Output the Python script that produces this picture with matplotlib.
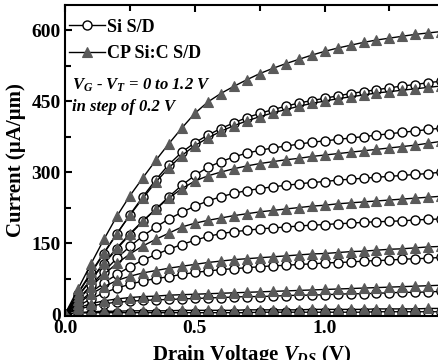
import matplotlib as mpl

mpl.use("Agg")
import matplotlib.pyplot as plt
from matplotlib.ticker import MultipleLocator

# drain voltage sweep (V)
V = [0.00, 0.05, 0.10, 0.15, 0.20, 0.25, 0.30, 0.35, 0.40, 0.45, 0.50,
     0.55, 0.60, 0.65, 0.70, 0.75, 0.80, 0.85, 0.90, 0.95, 1.00,
     1.05, 1.10, 1.15, 1.20, 1.25, 1.30, 1.35, 1.40, 1.45, 1.50]

# Si S/D, VG-VT = 0 ... 1.2 V (uA/um)
si_00 = [0, 2, 3, 3, 3, 3, 3, 3, 3, 3, 3, 3, 3, 3, 3, 4, 4, 4, 4, 4, 4, 4, 4, 4, 5, 5, 5, 5, 5, 5, 5]
si_02 = [0, 10, 17, 22, 25, 27, 29, 30, 31, 32, 33, 34, 35, 36, 37, 37, 38, 39, 40, 40, 41,
         42, 43, 43, 44, 45, 46, 46, 47, 48, 49]
si_04 = [0, 17, 32, 45, 55, 63, 70, 75, 79, 84, 88, 91, 94, 96, 98, 100, 102, 103, 105, 106, 108,
         109, 110, 112, 113, 114, 116, 117, 118, 120, 121]
si_06 = [0, 24, 46, 66, 84, 100, 114, 126, 137, 147, 156, 164, 170, 174, 177, 180, 182, 184, 186,
         188, 189, 191, 192, 194, 195, 196, 197, 199, 200, 201, 202]
si_08 = [0, 31, 61, 90, 118, 143, 165, 184, 201, 215, 228, 239, 248, 255, 261, 265, 269, 272, 275,
         278, 280, 283, 285, 287, 289, 291, 293, 295, 297, 300, 302]
si_10 = [0, 37, 72, 106, 138, 168, 196, 222, 248, 272, 293, 310, 322, 332, 340, 346, 351, 355, 359,
         363, 366, 369, 372, 375, 378, 381, 384, 387, 390, 393, 396]
si_12 = [0, 43, 86, 128, 170, 210, 248, 284, 316, 342, 362, 378, 392, 404, 415, 424, 432, 439, 446,
         451, 456, 461, 466, 470, 474, 478, 482, 485, 489, 492, 495]

# CP Si:C S/D, VG-VT = 0 ... 1.2 V (uA/um)
cp_00 = [0, 3, 5, 6, 6, 7, 7, 7, 7, 8, 8, 8, 8, 8, 9, 9, 9, 9, 9, 10, 10, 10, 10, 10, 11, 11, 11,
         11, 12, 12, 12]
cp_02 = [0, 13, 22, 28, 32, 35, 37, 38, 40, 41, 42, 43, 44, 45, 46, 47, 48, 49, 50, 51, 52,
         53, 54, 55, 56, 57, 58, 59, 60, 61, 62]
cp_04 = [0, 22, 42, 58, 71, 80, 87, 92, 97, 101, 105, 109, 112, 115, 117, 119, 121, 123, 125, 127,
         128, 130, 132, 133, 135, 137, 138, 140, 142, 143, 145]
cp_06 = [0, 30, 58, 84, 107, 127, 144, 158, 171, 184, 192, 198, 203, 208, 212, 216, 219, 222, 225,
         228, 230, 233, 235, 237, 239, 241, 243, 245, 247, 249, 251]
cp_08 = [0, 38, 74, 108, 140, 170, 197, 222, 245, 265, 281, 292, 300, 307, 313, 318, 322, 326, 329,
         333, 336, 339, 342, 345, 348, 351, 354, 357, 361, 365, 368]
cp_10 = [0, 45, 88, 130, 170, 209, 245, 279, 309, 335, 356, 372, 386, 398, 408, 417, 425, 432, 439,
         445, 450, 455, 459, 463, 467, 470, 473, 476, 479, 482, 485]
cp_12 = [0, 53, 106, 158, 207, 250, 288, 325, 360, 393, 424, 448, 466, 481, 495, 508, 519, 529, 538,
         547, 555, 562, 568, 574, 579, 583, 587, 591, 594, 597, 600]

SI = [si_00, si_02, si_04, si_06, si_08, si_10, si_12]
CP = [cp_00, cp_02, cp_04, cp_06, cp_08, cp_10, cp_12]

GRAY = "#5a5a5a"

plt.rcParams.update({
    "font.family": "Liberation Serif",
    "font.weight": "bold",
    "mathtext.fontset": "custom",
    "mathtext.it": "Liberation Serif:italic:bold",
    "mathtext.rm": "Liberation Serif:bold",
    "mathtext.bf": "Liberation Serif:bold",
})

fig = plt.figure(figsize=(4.38, 3.6), dpi=100)
ax = fig.add_axes([65 / 438, 1 - 316 / 360, 373 / 438, 311 / 360])

si_lines = [ax.plot(V, cur, "-o", color="k", lw=1.0, ms=6.5, mfc="white", mec="k", mew=1.0)[0]
            for cur in SI]
cp_lines = [ax.plot(V, cur, "-^", color="k", lw=1.0, ms=7, mfc=GRAY, mec=GRAY, mew=0.8)[0]
            for cur in CP]

ax.set_xlim(0, 1.437)
ax.set_ylim(-4, 653)
ax.xaxis.set_major_locator(MultipleLocator(0.5))
ax.xaxis.set_minor_locator(MultipleLocator(0.25))
ax.yaxis.set_major_locator(MultipleLocator(150))
ax.yaxis.set_minor_locator(MultipleLocator(75))
ax.tick_params(which="both", direction="in", top=True, right=False, width=1.5, labelsize=14, pad=3)
ax.tick_params(which="major", length=5)
ax.tick_params(which="minor", length=4)
ax.set_xticks([0.0, 0.5, 1.0])
ax.set_xticklabels(["0.0", "0.5", "1.0"])
for side in ("left", "bottom", "top"):
    ax.spines[side].set_linewidth(1.5)
ax.spines["right"].set_visible(False)

ax.set_ylabel("Current (\u00b5A/\u00b5m)", fontsize=15, fontweight="bold", labelpad=4)
ax.set_xlabel("Drain Voltage $V_{DS}$ (V)", fontsize=15, fontweight="bold", labelpad=4)

ax.legend(handles=[si_lines[0], cp_lines[0]], labels=["Si S/D", "CP Si:C S/D"],
          loc="upper left", bbox_to_anchor=(-0.005, 0.974), frameon=False,
          fontsize=13, handlelength=2.0, handletextpad=0.15, labelspacing=0.55, borderpad=0.3,
          borderaxespad=0.0)

ax.text(0.019, 0.743, "$V_G$ - $V_T$ = 0 to 1.2 V", transform=ax.transAxes, fontsize=12,
        fontstyle="italic", fontweight="bold", va="center", ha="left")
ax.text(0.019, 0.672, "in step of 0.2 V", transform=ax.transAxes, fontsize=12,
        fontstyle="italic", fontweight="bold", va="center", ha="left")

fig.savefig("out.png", dpi=100)
